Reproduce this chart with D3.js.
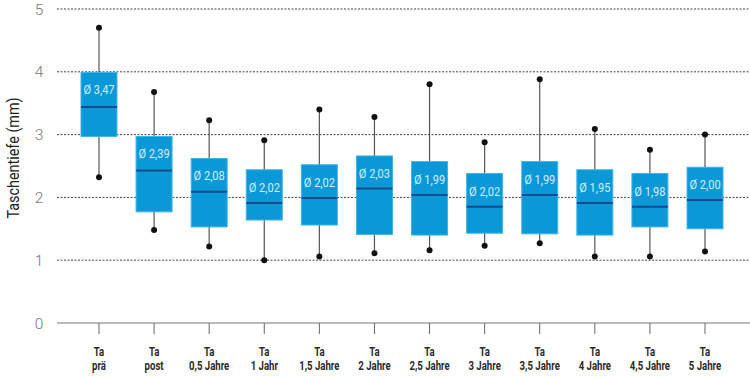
<!DOCTYPE html>
<html><head><meta charset="utf-8">
<script src="https://cdn.jsdelivr.net/npm/d3@7"></script>
<style>
body{margin:0;background:#fff;}
svg{display:block;}
</style></head>
<body>
<svg id="chart" width="750" height="376"></svg>
<script>
const categories = [["Ta","prä"],["Ta","post"],["Ta","0,5 Jahre"],["Ta","1 Jahr"],["Ta","1,5 Jahre"],["Ta","2 Jahre"],["Ta","2,5 Jahre"],["Ta","3 Jahre"],["Ta","3,5 Jahre"],["Ta","4 Jahre"],["Ta","4,5 Jahre"],["Ta","5 Jahre"]];
const whiskerLow  = [2.32,1.48,1.22,1.00,1.06,1.11,1.16,1.23,1.27,1.06,1.06,1.14];
const q1          = [2.97,1.77,1.53,1.64,1.56,1.41,1.40,1.43,1.42,1.40,1.53,1.50];
const median      = [3.44,2.43,2.09,1.91,1.99,2.14,2.04,1.85,2.04,1.91,1.85,1.96];
const q3          = [3.99,2.97,2.62,2.44,2.52,2.66,2.57,2.38,2.57,2.44,2.38,2.48];
const whiskerHigh = [4.70,3.68,3.23,2.91,3.40,3.28,3.80,2.88,3.88,3.09,2.76,3.00];
const means       = ["Ø 3,47","Ø 2,39","Ø 2,08","Ø 2,02","Ø 2,02","Ø 2,03","Ø 1,99","Ø 2,02","Ø 1,99","Ø 1,95","Ø 1,98","Ø 2,00"];
const yTicks = [0,1,2,3,4,5];

const svg = d3.select("#chart");
const mLeft = 57, mRight = 750, mTop = 9, mBottom = 323;
const y = d3.scaleLinear().domain([0,5]).range([mBottom, mTop]);
const x = d3.scaleBand().domain(d3.range(categories.length)).range([81, 723]).paddingInner(0.347).paddingOuter(0);
const cx = i => x(i)+x.bandwidth()/2;

// grid lines
svg.append("g").selectAll("line").data(yTicks.filter(d=>d>0)).join("line")
  .attr("x1", mLeft).attr("x2", mRight)
  .attr("y1", d=>y(d)).attr("y2", d=>y(d))
  .attr("stroke", "#444").attr("stroke-width", 1).attr("stroke-dasharray", "2,1.5");

// y tick labels
svg.append("g").selectAll("text").data(yTicks).join("text")
  .attr("x", 39).attr("y", d=>y(d)).attr("dy","0.36em")
  .attr("text-anchor","middle").attr("fill","#777")
  .style("font-family","Roboto, sans-serif").style("font-size","15.5px").style("font-weight","300")
  .text(d=>d);

// y axis title
svg.append("text").attr("transform","translate(19,158) rotate(-90) scale(0.9,1)")
  .attr("text-anchor","middle").attr("fill","#222")
  .style("font-family","Roboto, sans-serif").style("font-size","16px")
  .text("Taschentiefe (mm)");

// x axis
const xAxis = d3.axisBottom(x).tickSize(11).tickFormat("").tickSizeOuter(0);
const gx = svg.append("g").attr("transform",`translate(0,${mBottom})`).call(xAxis);
gx.select(".domain").remove();
gx.selectAll(".tick line").attr("stroke","#666");
svg.append("line").attr("x1",mLeft).attr("x2",mRight).attr("y1",mBottom).attr("y2",mBottom).attr("stroke","#777").attr("stroke-width",1.2);

// category labels
const cg = svg.append("g").selectAll("g").data(categories).join("g")
  .attr("transform",(d,i)=>`translate(${cx(i)},0) scale(0.8,1)`);
const cl = cg.append("text")
  .attr("x",0).attr("y",356)
  .attr("text-anchor","middle").attr("fill","#2a2a2a")
  .style("font-family","Roboto, sans-serif")
  .style("font-size","12px").style("font-weight","bold");
cl.append("tspan").attr("x",0).text(d=>d[0]);
cl.append("tspan").attr("x",0).attr("dy",14).text(d=>d[1]);

// boxes
const g = svg.append("g").selectAll("g").data(categories).join("g");
g.append("line").attr("x1",(d,i)=>cx(i)).attr("x2",(d,i)=>cx(i))
  .attr("y1",(d,i)=>y(whiskerHigh[i])).attr("y2",(d,i)=>y(whiskerLow[i]))
  .attr("stroke","#555").attr("stroke-width",1.2);
g.append("rect").attr("x",(d,i)=>x(i)).attr("width",x.bandwidth())
  .attr("y",(d,i)=>y(q3[i])).attr("height",(d,i)=>y(q1[i])-y(q3[i]))
  .attr("fill","#0a98d6").attr("stroke","#3fb4e6").attr("stroke-width",1);
g.append("line").attr("x1",(d,i)=>x(i)).attr("x2",(d,i)=>x(i)+x.bandwidth())
  .attr("y1",(d,i)=>y(median[i])).attr("y2",(d,i)=>y(median[i]))
  .attr("stroke","#174a8c").attr("stroke-width",2);
g.append("circle").attr("cx",(d,i)=>cx(i)).attr("cy",(d,i)=>y(whiskerHigh[i])).attr("r",3).attr("fill","#111");
g.append("circle").attr("cx",(d,i)=>cx(i)).attr("cy",(d,i)=>y(whiskerLow[i])).attr("r",3).attr("fill","#111");
g.append("text")
  .attr("transform",(d,i)=>`translate(${cx(i)},${y(q3[i])+22}) scale(0.82,1)`)
  .attr("text-anchor","middle").attr("fill","#d2efff")
  .style("font-family","Roboto, sans-serif")
  .style("font-size","13.5px")
  .text((d,i)=>means[i]);
</script>
</body></html>
